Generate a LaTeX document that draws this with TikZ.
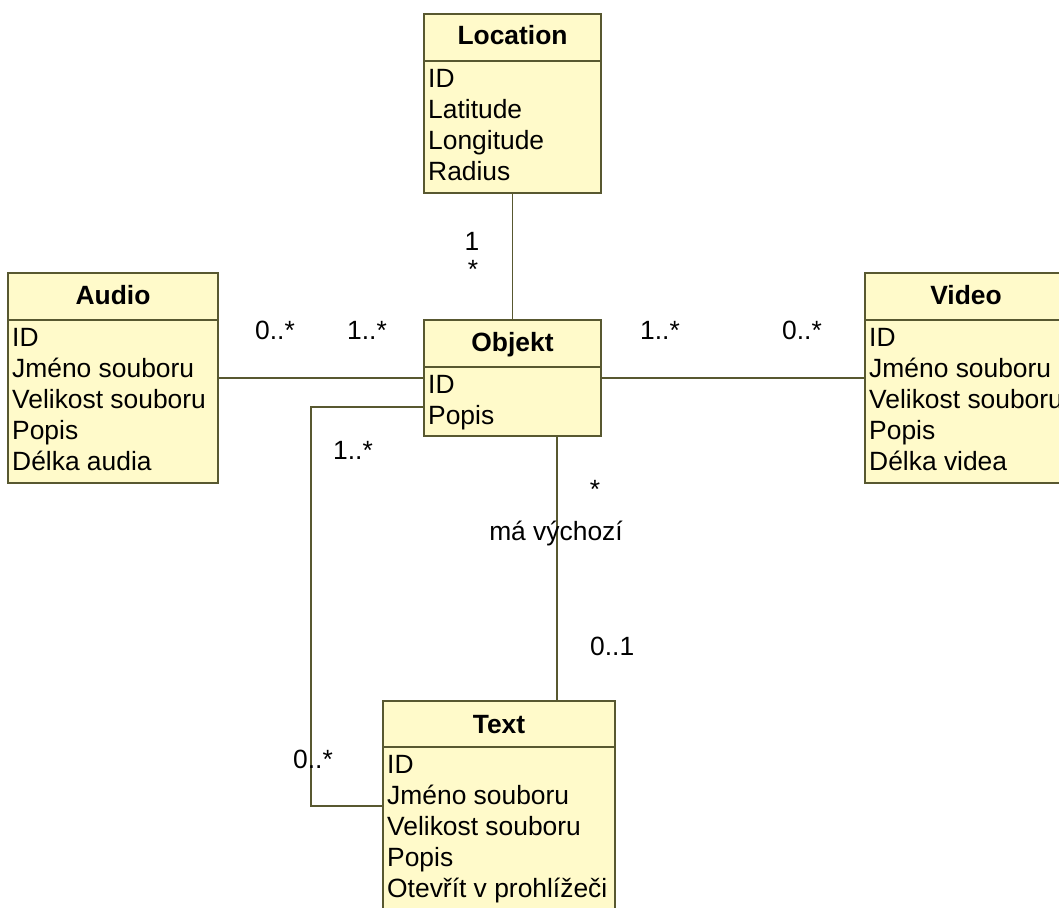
\documentclass[tikz,border=0pt]{standalone}
\usepackage{fontspec}
\setmainfont{Liberation Sans}
\usetikzlibrary{calc}
\definecolor{clsfill}{RGB}{255,250,202}
\definecolor{clsline}{RGB}{88,88,48}
\tikzset{
  cls/.style={draw=clsline, fill=clsfill, line width=2pt, rectangle, inner sep=0pt, outer sep=0pt, anchor=north west},
  sep/.style={draw=clsline, line width=2pt},
  conn/.style={draw=clsline, line width=1.6pt},
  ttl/.style={font=\fontsize{26.4}{31}\selectfont\bfseries, anchor=base, inner sep=0pt},
  attr/.style={font=\fontsize{26.4}{31}\selectfont, anchor=base west, inner sep=0pt},
  lbl/.style={font=\fontsize{26.4}{31}\selectfont, anchor=base west, inner sep=0pt},
  lblc/.style={font=\fontsize{26.4}{31}\selectfont, anchor=base, inner sep=0pt}
}
\begin{document}
\begin{tikzpicture}[x=1pt,y=-1pt]
\clip (0,0) rectangle (1059,907);
\fill[white] (0,0) rectangle (1059,907);

% Location
\node[cls, minimum width=177pt, minimum height=179pt] (loc) at (424,14) {};
\draw[sep] (424,61) -- (601,61);
\node[ttl] (locT) at (512.5,45) {Location};
\foreach \t [count=\i from 0] in {ID,Latitude,Longitude,Radius}
  \node[attr] (loc\i) at (428,87+31*\i) {\t};

% Audio
\node[cls, minimum width=210pt, minimum height=210pt] (aud) at (8,273) {};
\draw[sep] (8,320) -- (218,320);
\node[ttl] (audT) at (113,304) {Audio};
\foreach \t [count=\i from 0] in {ID,Jméno souboru,Velikost souboru,Popis,Délka audia}
  \node[attr] (aud\i) at (12,346+31*\i) {\t};

% Objekt
\node[cls, minimum width=177pt, minimum height=116pt] (obj) at (424,320) {};
\draw[sep] (424,367) -- (601,367);
\node[ttl] (objT) at (512.5,351) {Objekt};
\foreach \t [count=\i from 0] in {ID,Popis}
  \node[attr] (obj\i) at (428,393+31*\i) {\t};

% Video
\node[cls, minimum width=202pt, minimum height=210pt] (vid) at (865,273) {};
\draw[sep] (865,320) -- (1067,320);
\node[ttl] (vidT) at (966,304) {Video};
\foreach \t [count=\i from 0] in {ID,Jméno souboru,Velikost souboru,Popis,Délka videa}
  \node[attr] (vid\i) at (869,346+31*\i) {\t};

% Text
\node[cls, minimum width=232pt, minimum height=215pt] (txt) at (383,701) {};
\draw[sep] (383,747) -- (615,747);
\node[ttl] (txtT) at (499,733) {Text};
\foreach \t [count=\i from 0] in {ID,Jméno souboru,Velikost souboru,Popis,Otevřít v prohlížeči}
  \node[attr] (txt\i) at (387,773+31*\i) {\t};

% connectors
\coordinate (ob) at ($(obj.south west)+(133,0)$);
\coordinate (op) at ($(obj.west)+(0,29)$);
\coordinate (tj) at ($(txt.north west)+(0,105)$);
\draw[conn] (loc.south) -- (obj.north);
\draw[conn] (aud.east) -- (obj.west);
\draw[conn] (obj.east) -- (vid.west);
\draw[conn] (op) -| (311,806) -- (tj);
\draw[conn] (ob) -- (ob |- txt.north);

% labels
\node[lblc] (l1) at (472,250) {1};
\node[lblc] (l2) at (473,278) {*};
\node[lbl] (l3) at (255,339) {0..*};
\node[lbl] (l4) at (347,339) {1..*};
\node[lbl] (l5) at (640,339) {1..*};
\node[lbl] (l6) at (782,339) {0..*};
\node[lbl] (l7) at (333,459) {1..*};
\node[lblc] (l8) at (595,498) {*};
\node[lblc] (l9) at (556,540) {má výchozí};
\node[lbl] (l10) at (590,655) {0..1};
\node[lbl] (l11) at (293,768) {0..*};
\end{tikzpicture}
\end{document}
